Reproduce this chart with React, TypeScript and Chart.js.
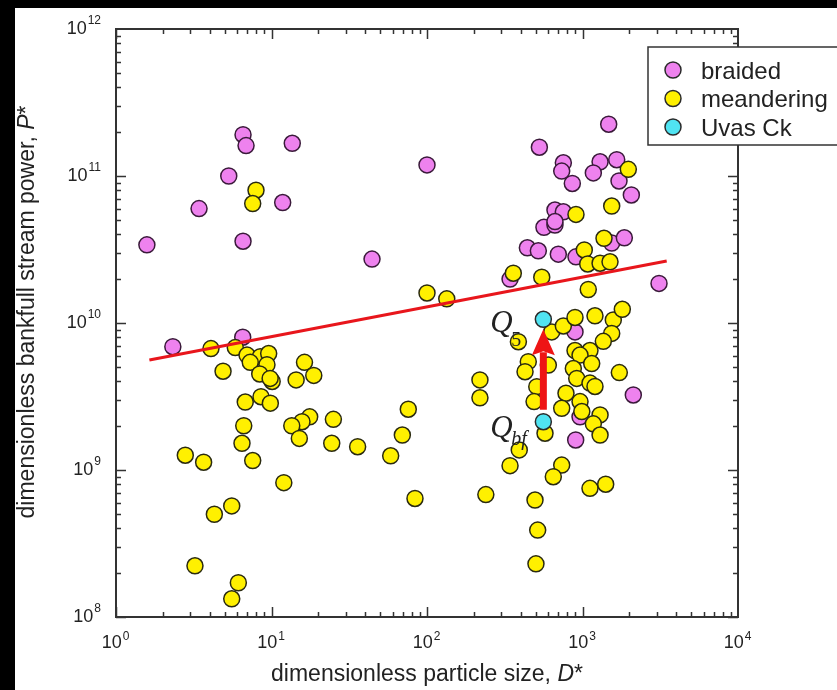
import React, { useEffect, useRef } from "react";
import { Chart, registerables } from "chart.js";

Chart.register(...registerables);

// ---- data (dimensionless particle size D*, dimensionless bankfull stream power P*) ----
const braidedD = [1.58, 2.32, 3.42, 5.31, 6.56, 6.86, 13.6, 11.8, 6.56, 6.53,
  100, 44.3, 1474, 528, 753, 735, 860, 1297, 1174, 1660,
  1717, 2061, 665, 753, 565, 665, 665, 442, 520, 699,
  908, 1541, 1858, 3105, 342, 895, 2122, 904, 964];
const braidedP = [3.4e10, 6.9e9, 6.0e10, 1.0e11, 1.91e11, 1.61e11, 1.67e11, 6.6e10, 3.6e10, 8.0e9,
  1.19e11, 2.72e10, 2.25e11, 1.57e11, 1.23e11, 1.08e11, 8.9e10, 1.25e11, 1.05e11, 1.29e11,
  9.25e10, 7.43e10, 5.87e10, 5.71e10, 4.48e10, 4.64e10, 4.9e10, 3.25e10, 3.1e10, 2.94e10,
  2.82e10, 3.5e10, 3.8e10, 1.86e10, 1.99e10, 8.7e9, 3.24e9, 1.6e9, 2.3e9];

const meanderD = [7.95, 7.57, 4.08, 5.85, 4.88, 6.96, 8.47, 9.59, 7.3, 9.35,
  8.4, 10.1, 9.8, 6.78, 8.56, 9.83, 6.63, 6.46, 2.79, 3.66,
  7.57, 16.3, 14.4, 18.7, 17.6, 15.7, 13.5, 15.1, 12.0, 5.55,
  4.29, 3.22, 6.12, 5.55, 25, 24.4, 35.8, 75.8, 69.4, 58.4,
  83.7, 100, 134, 359, 547, 1089, 1375, 1027, 1080, 1297,
  1503, 1971, 1541, 908, 634, 753, 895, 1203, 1578, 1803,
  1541, 1361, 1117, 895, 964, 1146, 873, 918, 1117, 1203,
  783, 964, 990, 735, 1297, 1174, 1297, 574, 1725, 448,
  427, 603, 508, 488, 219, 219, 387, 392, 342, 735,
  649, 239, 495, 1117, 1410, 515, 502];
const meanderP = [8.0e10, 6.5e10, 6.7e9, 6.8e9, 4.7e9, 6.05e9, 5.9e9, 6.2e9, 5.4e9, 5.2e9,
  4.5e9, 4.0e9, 4.2e9, 2.9e9, 3.15e9, 2.85e9, 2.0e9, 1.52e9, 1.26e9, 1.13e9,
  1.16e9, 5.4e9, 4.1e9, 4.4e9, 2.3e9, 2.13e9, 2.0e9, 1.64e9, 8.2e8, 5.7e8,
  5.0e8, 2.23e8, 1.71e8, 1.33e8, 2.21e9, 1.52e9, 1.44e9, 2.59e9, 1.73e9, 1.25e9,
  6.4e8, 1.6e10, 1.46e10, 2.18e10, 2.05e10, 1.69e10, 3.77e10, 3.14e10, 2.52e10, 2.55e10,
  2.61e10, 1.11e11, 6.25e10, 5.48e10, 8.7e9, 9.55e9, 1.09e10, 1.12e10, 1.05e10, 1.24e10,
  8.5e9, 7.5e9, 6.5e9, 6.5e9, 6.05e9, 5.3e9, 4.9e9, 4.2e9, 3.9e9, 3.7e9,
  3.33e9, 2.92e9, 2.5e9, 2.63e9, 2.37e9, 2.06e9, 1.73e9, 1.78e9, 4.6e9, 5.46e9,
  4.66e9, 5.17e9, 3.69e9, 2.92e9, 4.1e9, 3.1e9, 7.46e9, 1.37e9, 1.07e9, 1.08e9,
  9.0e8, 6.8e8, 6.25e8, 7.5e8, 8.0e8, 3.9e8, 2.3e8];

const uvasD = [560, 560];
const uvasP = [1.06e10, 2.13e9]; // Q5, Qbf

const trendD = [1.64, 3480];
const trendP = [5.6e9, 2.64e10];

const xDecades = [0, 1, 2, 3, 4];
const yDecades = [8, 9, 10, 11, 12];

const seriesNames = ["braided", "meandering", "Uvas Ck"];
const seriesFill = ["#ee82ee", "#fff000", "#50e4f2"];

const SANS = '"Liberation Sans", Arial, Helvetica, sans-serif';
const SERIF = '"Liberation Serif", "Times New Roman", serif';
const INK = "#222222";

const pts = (xs: number[], ys: number[]) => xs.map((x, i) => ({ x, y: ys[i] }));

export default function App() {
  const ref = useRef<HTMLCanvasElement>(null);

  useEffect(() => {
    document.body.style.margin = "0";
    document.body.style.background = "#000";
    const canvas = ref.current!;

    const bgPlugin = {
      id: "bgPlugin",
      beforeDraw(chart: any) {
        const ctx = chart.ctx;
        ctx.save();
        ctx.fillStyle = "#000";
        ctx.fillRect(0, 0, chart.width, chart.height);
        ctx.fillStyle = "#fff";
        ctx.fillRect(15, 8, chart.width - 15, chart.height - 8);
        ctx.restore();
      },
    };

    const framePlugin = {
      id: "framePlugin",
      beforeDatasetsDraw(chart: any) {
        const ctx = chart.ctx;
        const { left, right, top, bottom } = chart.chartArea;
        const xs = chart.scales.x;
        const ys = chart.scales.y;
        ctx.save();
        ctx.strokeStyle = "#333";
        ctx.lineWidth = 1.5;
        ctx.beginPath();
        for (let e = xDecades[0]; e < xDecades[xDecades.length - 1]; e++) {
          for (let m = 1; m < 10; m++) {
            const px = Math.round(xs.getPixelForValue(m * Math.pow(10, e))) + 0.5;
            const len = m === 1 ? 10 : 5;
            ctx.moveTo(px, bottom); ctx.lineTo(px, bottom - len);
            ctx.moveTo(px, top); ctx.lineTo(px, top + len);
          }
        }
        for (let e = yDecades[0]; e < yDecades[yDecades.length - 1]; e++) {
          for (let m = 1; m < 10; m++) {
            const py = Math.round(ys.getPixelForValue(m * Math.pow(10, e))) + 0.5;
            const len = m === 1 ? 10 : 5;
            ctx.moveTo(left, py); ctx.lineTo(left + len, py);
            ctx.moveTo(right, py); ctx.lineTo(right - len, py);
          }
        }
        ctx.stroke();
        ctx.lineWidth = 2;
        ctx.strokeRect(left, top, right - left, bottom - top);

        // tick labels 10^n
        ctx.fillStyle = INK;
        ctx.textBaseline = "alphabetic";
        ctx.textAlign = "left";
        const baseFont = `18px ${SANS}`;
        const expFont = `12px ${SANS}`;
        for (const e of xDecades) {
          const px = xs.getPixelForValue(Math.pow(10, e));
          ctx.font = baseFont;
          const wb = ctx.measureText("10").width;
          ctx.font = expFont;
          const we = ctx.measureText(String(e)).width;
          const start = px - (wb + we) / 2 - 1;
          ctx.font = baseFont;
          ctx.fillText("10", start, bottom + 31);
          ctx.font = expFont;
          ctx.fillText(String(e), start + wb + 1, bottom + 23);
        }
        for (const e of yDecades) {
          const py = ys.getPixelForValue(Math.pow(10, e));
          ctx.font = expFont;
          const we = ctx.measureText(String(e)).width;
          ctx.font = baseFont;
          const wb = ctx.measureText("10").width;
          const endX = 101;
          ctx.fillText("10", endX - we - 1 - wb, py + 4.5);
          ctx.font = expFont;
          ctx.fillText(String(e), endX - we, py - 5);
        }

        // axis titles with italic symbols
        const drawParts = (parts: [string, string][], cx: number, y: number) => {
          let total = 0;
          for (const [t, f] of parts) { ctx.font = f; total += ctx.measureText(t).width; }
          let x = cx - total / 2;
          for (const [t, f] of parts) {
            ctx.font = f;
            ctx.fillText(t, x, y);
            x += ctx.measureText(t).width;
          }
        };
        const tf = `23px ${SANS}`;
        const tfi = `italic 23px ${SANS}`;
        drawParts([["dimensionless particle size, ", tf], ["D", tfi], ["*", tf]], 427, 681);
        ctx.save();
        ctx.translate(34, 312);
        ctx.rotate(-Math.PI / 2);
        drawParts([["dimensionless bankfull stream power, ", tf], ["P", tfi], ["*", tf]], 0, 0);
        ctx.restore();
        ctx.restore();
      },
    };

    const annotPlugin = {
      id: "annotPlugin",
      afterDatasetsDraw(chart: any) {
        const ctx = chart.ctx;
        const xs = chart.scales.x;
        const ys = chart.scales.y;
        const px = xs.getPixelForValue(uvasD[0]);
        const y5 = ys.getPixelForValue(uvasP[0]);
        const ybf = ys.getPixelForValue(uvasP[1]);
        ctx.save();
        // arrow from Qbf to Q5
        const tip = y5 + 10;
        const headBase = tip + 24;
        const tail = ybf - 12;
        ctx.fillStyle = "#ee1414";
        ctx.fillRect(px - 3.5, headBase - 1, 7, tail - headBase + 1);
        ctx.beginPath();
        ctx.moveTo(px, tip);
        ctx.lineTo(px + 11.5, headBase + 2);
        ctx.lineTo(px, headBase - 2);
        ctx.lineTo(px - 11.5, headBase + 2);
        ctx.closePath();
        ctx.fill();

        ctx.fillStyle = INK;
        ctx.textAlign = "left";
        ctx.textBaseline = "alphabetic";
        ctx.font = `italic 31px ${SERIF}`;
        ctx.fillText("Q", px - 53, y5 + 13);
        ctx.font = `20px ${SERIF}`;
        ctx.fillText("5", px - 32, y5 + 27);
        ctx.font = `italic 31px ${SERIF}`;
        ctx.fillText("Q", px - 53, ybf + 15);
        ctx.font = `italic 20px ${SERIF}`;
        ctx.fillText("bf", px - 32, ybf + 23);
        ctx.restore();
      },
    };

    const legendPlugin = {
      id: "legendPlugin",
      afterDraw(chart: any) {
        const ctx = chart.ctx;
        ctx.save();
        ctx.fillStyle = "#fff";
        ctx.fillRect(648, 47, 220, 98);
        ctx.strokeStyle = "#333";
        ctx.lineWidth = 1.5;
        ctx.strokeRect(648, 47, 220, 98);
        const rows = [70, 98.5, 127];
        seriesNames.forEach((name, i) => {
          const y = rows[i];
          ctx.beginPath();
          ctx.arc(673, y, 8, 0, Math.PI * 2);
          ctx.fillStyle = seriesFill[i];
          ctx.fill();
          ctx.lineWidth = 1.5;
          ctx.strokeStyle = "#2a2a2a";
          ctx.stroke();
          ctx.fillStyle = INK;
          ctx.font = `24px ${SANS}`;
          ctx.textBaseline = "alphabetic";
          ctx.fillText(name, 701, y + 8.5);
        });
        ctx.restore();
      },
    };

    const chart = new Chart(canvas, {
      type: "scatter",
      data: {
        datasets: [
          {
            type: "line",
            label: "trend",
            data: pts(trendD, trendP),
            borderColor: "#e8161c",
            borderWidth: 3,
            pointRadius: 0,
            fill: false,
            order: 0,
          } as any,
          {
            label: seriesNames[2],
            data: pts(uvasD, uvasP),
            backgroundColor: seriesFill[2],
            borderColor: "#2a2a2a",
            borderWidth: 1.5,
            pointRadius: 8,
            order: 1,
          },
          {
            label: seriesNames[1],
            data: pts(meanderD, meanderP),
            backgroundColor: seriesFill[1],
            borderColor: "#2a2a10",
            borderWidth: 1.5,
            pointRadius: 8,
            order: 2,
          },
          {
            label: seriesNames[0],
            data: pts(braidedD, braidedP),
            backgroundColor: seriesFill[0],
            borderColor: "#3a1a3a",
            borderWidth: 1.5,
            pointRadius: 8,
            order: 3,
          },
        ],
      },
      options: {
        responsive: false,
        animation: false,
        events: [],
        layout: { padding: { left: 116, top: 29, right: 99, bottom: 73 } },
        scales: {
          x: { type: "logarithmic", min: 1, max: 1e4, display: false },
          y: { type: "logarithmic", min: 1e8, max: 1e12, display: false },
        },
        plugins: {
          legend: { display: false },
          tooltip: { enabled: false },
        },
      },
      plugins: [bgPlugin, framePlugin, annotPlugin, legendPlugin],
    });
    return () => chart.destroy();
  }, []);

  return (
    <div style={{ position: "absolute", left: 0, top: 0, width: 837, height: 690 }}>
      <canvas ref={ref} width={837} height={690} style={{ display: "block" }} />
    </div>
  );
}
